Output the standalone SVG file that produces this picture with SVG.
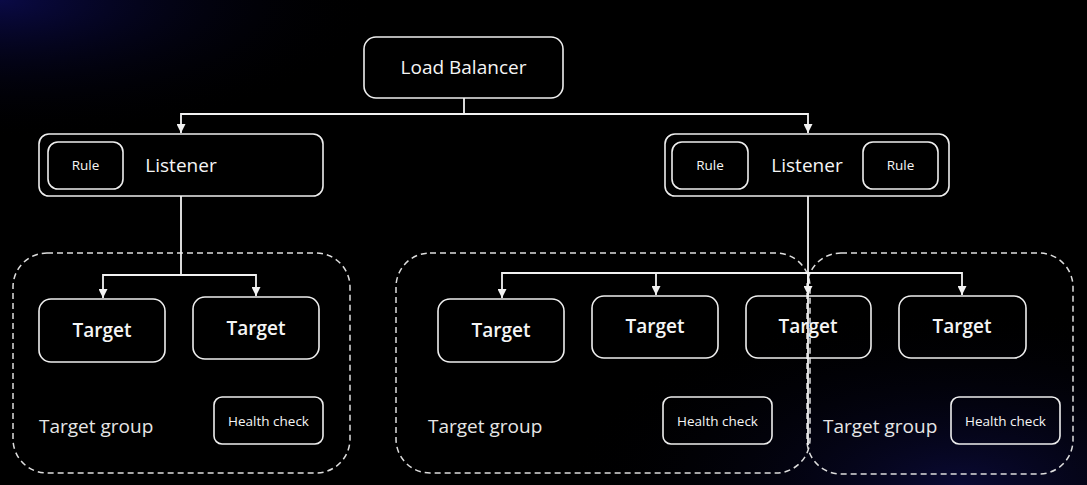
<svg xmlns="http://www.w3.org/2000/svg" width="1087" height="485" viewBox="0 0 1087 485">
<defs>
<radialGradient id="tl" cx="0" cy="0" r="1" gradientUnits="userSpaceOnUse" gradientTransform="translate(0 0) scale(380 140)">
<stop offset="0" stop-color="#0a0a46"/>
<stop offset="1" stop-color="#000" stop-opacity="0"/>
</radialGradient>
<radialGradient id="br" cx="0" cy="0" r="1" gradientUnits="userSpaceOnUse" gradientTransform="translate(960 485) scale(400 180)">
<stop offset="0" stop-color="#0a0a34"/>
<stop offset="1" stop-color="#000" stop-opacity="0"/>
</radialGradient>
<marker id="arr" viewBox="0 0 10 10" refX="10" refY="5" markerWidth="9" markerHeight="9" markerUnits="userSpaceOnUse" orient="auto">
<path d="M0,0 L10,5 L0,10 z" fill="#f2f2f2"/>
</marker>
</defs>
<style>
.box{fill:none;stroke:#eeeeee;stroke-width:1.6}
.fill{fill:#000;stroke:#eeeeee;stroke-width:1.6}
.grp{fill:none;stroke:#dddddd;stroke-width:1.5;stroke-dasharray:6 4}
.t{font-family:"Open Sans","Noto Sans",sans-serif;fill:#f5f5f5;text-anchor:middle}
.big{font-size:19px}
.tgt{font-size:19px;font-weight:600}
.sm{font-size:13.5px;font-weight:500}
.gl{font-family:"Open Sans","Noto Sans",sans-serif;fill:#e6e6e6;font-size:19px}
.c{fill:none;stroke:#f2f2f2;stroke-width:1.8}
</style>
<rect width="1087" height="485" fill="#000"/>
<rect width="1087" height="485" fill="url(#tl)"/>
<rect width="1087" height="485" fill="url(#br)"/>

<g id="group-left">
<rect class="grp" x="13" y="253" width="337" height="220" rx="34"/>
<text class="gl" x="39" y="433">Target group</text>
</g>
<g id="group-mid">
<rect class="grp" x="396" y="253" width="414" height="220" rx="34"/>
<text class="gl" x="428" y="433">Target group</text>
</g>
<g id="group-right">
<rect class="grp" x="807" y="253" width="266" height="221" rx="34"/>
<text class="gl" x="823" y="433">Target group</text>
</g>

<g id="health-left">
<rect class="box" x="214" y="397" width="109" height="47" rx="8"/>
<text class="t sm" x="268.5" y="426">Health check</text>
</g>
<g id="health-mid">
<rect class="box" x="663" y="397" width="109" height="47" rx="8"/>
<text class="t sm" x="717.5" y="426">Health check</text>
</g>
<g id="health-right">
<rect class="box" x="951" y="397" width="109" height="47" rx="8"/>
<text class="t sm" x="1005.5" y="426">Health check</text>
</g>

<g id="load-balancer">
<rect class="fill" x="364" y="37" width="199" height="61" rx="12"/>
<text class="t big" x="463.5" y="74">Load Balancer</text>
</g>

<g id="listener-left">
<rect class="fill" x="39" y="134" width="284" height="62" rx="10"/>
<rect class="box" x="48" y="142" width="75" height="47" rx="10"/>
<text class="t sm" x="85.5" y="170">Rule</text>
<text class="t big" x="181" y="172">Listener</text>
</g>
<g id="listener-right">
<rect class="fill" x="665" y="134" width="284" height="62" rx="10"/>
<rect class="box" x="672" y="142" width="76" height="47" rx="10"/>
<text class="t sm" x="710" y="170">Rule</text>
<rect class="box" x="863" y="142" width="75" height="47" rx="10"/>
<text class="t sm" x="900.5" y="170">Rule</text>
<text class="t big" x="807" y="172">Listener</text>
</g>

<g id="target-1">
<rect class="box" x="39" y="299" width="126" height="63" rx="12"/>
<text class="t tgt" x="102" y="337">Target</text>
</g>
<g id="target-2">
<rect class="box" x="193" y="297" width="126" height="62" rx="12"/>
<text class="t tgt" x="256" y="335">Target</text>
</g>
<g id="target-3">
<rect class="box" x="438" y="299" width="126" height="63" rx="12"/>
<text class="t tgt" x="501" y="337">Target</text>
</g>
<g id="target-4">
<rect class="box" x="592" y="296" width="126" height="62" rx="12"/>
<text class="t tgt" x="655" y="333">Target</text>
</g>
<g id="target-5">
<rect class="box" x="746" y="296" width="125" height="62" rx="12"/>
<text class="t tgt" x="808" y="333">Target</text>
</g>
<g id="target-6">
<rect class="box" x="899" y="296" width="127" height="62" rx="12"/>
<text class="t tgt" x="962" y="333">Target</text>
</g>

<g id="connectors">
<path class="c" d="M464,98 V114"/>
<path class="c" d="M464,114 H181 V133" marker-end="url(#arr)"/>
<path class="c" d="M464,114 H808 V133" marker-end="url(#arr)"/>
<path class="c" d="M181,196 V275"/>
<path class="c" d="M181,275 H103 V298" marker-end="url(#arr)"/>
<path class="c" d="M181,275 H256 V296" marker-end="url(#arr)"/>
<path class="c" d="M808,196 V445"/>
<path class="c" d="M808,273 H502 V298" marker-end="url(#arr)"/>
<path class="c" d="M656,273 V295" marker-end="url(#arr)"/>
<path class="c" d="M808,273 V295" marker-end="url(#arr)"/>
<path class="c" d="M808,273 H962 V295" marker-end="url(#arr)"/>
</g>
</svg>
